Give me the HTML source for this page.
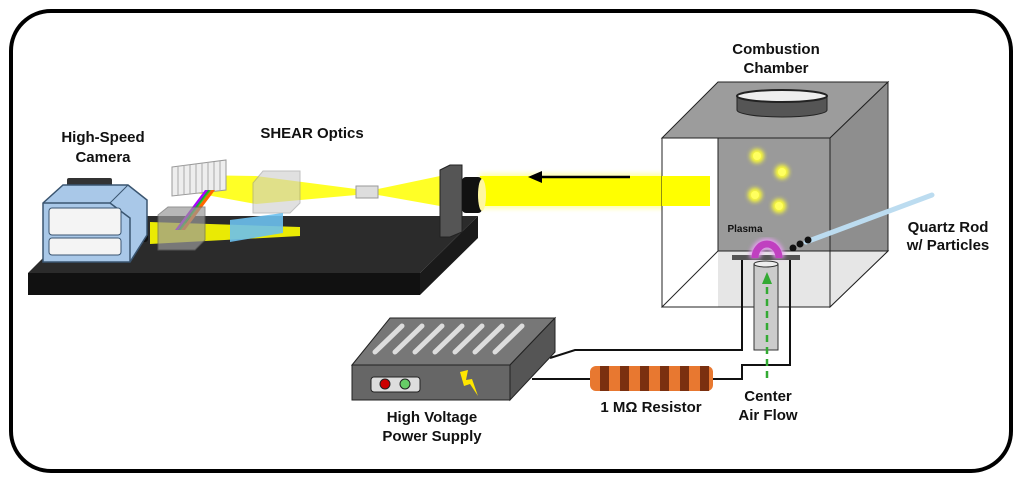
<!DOCTYPE html>
<html><head><meta charset="utf-8"><style>
body{margin:0;background:#fff}
svg{display:block}
text{font-family:"Liberation Sans",sans-serif;font-weight:bold;fill:#111}
</style></head><body>
<svg width="1024" height="484" viewBox="0 0 1024 484" xmlns="http://www.w3.org/2000/svg">
<defs>
<filter id="g" x="-50%" y="-50%" width="200%" height="200%"><feGaussianBlur stdDeviation="2"/></filter>
</defs>
<rect x="11" y="11" width="1000" height="460" rx="40" fill="#fff" stroke="#000" stroke-width="4"/>

<!-- table -->
<polygon points="28,273 420,273 478,216 85,216" fill="#2b2b2b"/>
<polygon points="28,273 420,273 420,295 28,295" fill="#111"/>
<polygon points="420,273 478,216 478,238 420,295" fill="#1a1a1a"/>

<!-- beams -->
<rect x="480" y="173" width="230" height="36" fill="#ffff80" opacity="0.6" filter="url(#g)"/>
<rect x="480" y="176" width="230" height="30" fill="#ffff00"/>
<polygon points="440,176 378,189 378,195 440,206" fill="#ffff00" opacity="0.85"/>
<polygon points="356,189 256,176 190,175 190,192 256,204 356,195" fill="#ffff00" opacity="0.85"/>
<polygon points="150,222 300,227 300,236 150,244" fill="#ffff00" opacity="0.9"/>

<!-- lens mount -->
<polygon points="440,170 450,165 462,165 462,232 450,237 440,237" fill="#555" stroke="#222"/>
<rect x="462" y="177" width="20" height="36" rx="4" fill="#111"/>
<ellipse cx="482" cy="195" rx="4" ry="16" fill="#fff7a0"/>
<rect x="356" y="186" width="22" height="12" fill="#ddd" stroke="#999"/>

<!-- cube2 -->
<polygon points="253,183 263,171 300,171 300,203 290,213 253,213" fill="#ccc" opacity="0.6" stroke="#999"/>
<!-- grating -->
<polygon points="172,167 226,160 226,190 172,196" fill="#eee" stroke="#999"/>
<g stroke="#aaa" stroke-width="1">
<line x1="178" y1="166" x2="178" y2="195"/><line x1="184" y1="165" x2="184" y2="194"/><line x1="190" y1="165" x2="190" y2="194"/><line x1="196" y1="164" x2="196" y2="193"/><line x1="202" y1="163" x2="202" y2="192"/><line x1="208" y1="162" x2="208" y2="192"/><line x1="214" y1="162" x2="214" y2="191"/><line x1="220" y1="161" x2="220" y2="190"/></g>
<polygon points="205,190 210,190 180,230 175,230" fill="#a0f"/>
<polygon points="208,190 213,190 183,230 178,230" fill="#0c0" opacity="0.8"/>
<polygon points="211,190 215,190 185,230 181,230" fill="#f60"/>
<polygon points="230,220 283,213 283,233 230,242" fill="#6cc0ee" opacity="0.9"/>
<polygon points="158,215 168,207 205,207 205,240 195,250 158,250" fill="#999" opacity="0.7" stroke="#666"/>

<!-- camera -->
<rect x="130" y="218" width="18" height="24" rx="3" fill="#111"/>
<rect x="67" y="178" width="45" height="9" rx="2" fill="#333"/>
<polygon points="43,203 63,185 128,185 147,200 147,235 130,262 43,262" fill="#a9c8e8" stroke="#3a5570" stroke-width="1.5"/>
<polyline points="43,203 110,203 130,218 130,262" fill="none" stroke="#3a5570" stroke-width="1.5"/>
<line x1="128" y1="185" x2="110" y2="203" stroke="#3a5570"/>
<rect x="49" y="208" width="72" height="27" rx="3" fill="#f4f4f4" stroke="#3a5570"/>
<rect x="49" y="238" width="72" height="17" rx="3" fill="#f4f4f4" stroke="#3a5570"/>

<!-- arrow -->
<line x1="630" y1="177" x2="540" y2="177" stroke="#000" stroke-width="2.5"/>
<polygon points="528,177 542,171 542,183" fill="#000"/>

<!-- chamber -->
<rect x="718" y="82" width="170" height="169" fill="#9a9a9a"/>
<polygon points="662,138 718,82 888,82 830,138" fill="#9c9c9c" stroke="#222"/>
<polygon points="830,138 888,82 888,251 830,307" fill="#8e8e8e" stroke="#222"/>
<polygon points="662,307 718,251 888,251 830,307" fill="#e6e6e6" stroke="#222"/>
<rect x="662" y="138" width="56" height="169" fill="#fff"/>
<rect x="662" y="138" width="168" height="169" fill="none" stroke="#222"/>
<line x1="718" y1="138" x2="718" y2="251" stroke="#222"/>
<line x1="718" y1="251" x2="662" y2="307" stroke="#222"/>
<path d="M737,96 L737,110 A45,7 0 0 0 827,110 L827,96" fill="#555" stroke="#222"/>
<ellipse cx="782" cy="96" rx="45" ry="6" fill="#eee" stroke="#222" stroke-width="2"/>
<g fill="#ffff30"><circle cx="757" cy="156" r="7" filter="url(#g)"/><circle cx="782" cy="172" r="7" filter="url(#g)"/><circle cx="755" cy="195" r="7" filter="url(#g)"/><circle cx="779" cy="206" r="7" filter="url(#g)"/></g>
<g fill="#ffff60"><circle cx="757" cy="156" r="4"/><circle cx="782" cy="172" r="4"/><circle cx="755" cy="195" r="4"/><circle cx="779" cy="206" r="4"/></g>
<rect x="662" y="176" width="48" height="30" fill="#ffff00"/>

<!-- quartz rod -->
<line x1="806" y1="242" x2="932" y2="195" stroke="#bcdcf0" stroke-width="5" stroke-linecap="round"/>
<circle cx="793" cy="248" r="3.5" fill="#111"/><circle cx="800" cy="244" r="3.5" fill="#111"/><circle cx="808" cy="240" r="3.5" fill="#111"/>
<rect x="732" y="255" width="68" height="5" fill="#555"/>
<path d="M755,258 A12,14 0 0 1 779,258" fill="none" stroke="#e6a0f0" stroke-width="11" filter="url(#g)"/>
<path d="M755,258 A12,14 0 0 1 779,258" fill="none" stroke="#c040c0" stroke-width="7"/>
<!-- wires -->
<polyline points="742,260 742,350 575,350 550,358" fill="none" stroke="#111" stroke-width="2"/>
<polyline points="790,260 790,365 742,365 742,379 713,379" fill="none" stroke="#111" stroke-width="2"/>
<line x1="590" y1="379" x2="532" y2="379" stroke="#111" stroke-width="2"/>
<rect x="754" y="264" width="24" height="86" fill="#ccc" stroke="#333"/>
<ellipse cx="766" cy="264" rx="12" ry="3" fill="#eee" stroke="#333"/>
<line x1="767" y1="378" x2="767" y2="284" stroke="#3a3" stroke-width="2.5" stroke-dasharray="7,5"/>
<polygon points="767,272 762,284 772,284" fill="#3a3"/>

<!-- resistor -->
<rect x="590" y="366" width="123" height="25" rx="6" fill="#e87830"/>
<g fill="#7a3010"><rect x="600" y="366" width="9" height="25"/><rect x="620" y="366" width="9" height="25"/><rect x="640" y="366" width="9" height="25"/><rect x="660" y="366" width="9" height="25"/><rect x="680" y="366" width="9" height="25"/><rect x="700" y="366" width="9" height="25"/></g>

<!-- power supply -->
<polygon points="352,365 390,318 555,318 510,365" fill="#777" stroke="#222"/>
<polygon points="352,365 510,365 510,400 352,400" fill="#666" stroke="#222"/>
<polygon points="510,365 555,318 555,352 510,400" fill="#555" stroke="#222"/>
<g stroke="#ddd" stroke-width="5" stroke-linecap="round">
<line x1="375" y1="352" x2="402" y2="326"/><line x1="395" y1="352" x2="422" y2="326"/><line x1="415" y1="352" x2="442" y2="326"/><line x1="435" y1="352" x2="462" y2="326"/><line x1="455" y1="352" x2="482" y2="326"/><line x1="475" y1="352" x2="502" y2="326"/><line x1="495" y1="352" x2="522" y2="326"/></g>
<rect x="371" y="377" width="49" height="15" rx="3" fill="#ddd" stroke="#222"/>
<circle cx="385" cy="384" r="5" fill="#c00" stroke="#222"/>
<circle cx="405" cy="384" r="5" fill="#6c6" stroke="#222"/>
<polygon points="460,372 468,370 466,380 472,379 478,396 470,384 464,386" fill="#ffe600"/>

<g font-size="15" text-anchor="middle">
<text x="776" y="54">Combustion</text><text x="776" y="73">Chamber</text>
<text x="103" y="142">High-Speed</text><text x="103" y="162">Camera</text>
<text x="312" y="138">SHEAR Optics</text>
<text x="948" y="232">Quartz Rod</text><text x="948" y="250">w/ Particles</text>
<text x="432" y="422">High Voltage</text><text x="432" y="441">Power Supply</text>
<text x="651" y="412">1 MΩ Resistor</text>
<text x="768" y="401">Center</text><text x="768" y="420">Air Flow</text>
<text x="745" y="232" font-size="10">Plasma</text>
</g>
</svg>
</body></html>
